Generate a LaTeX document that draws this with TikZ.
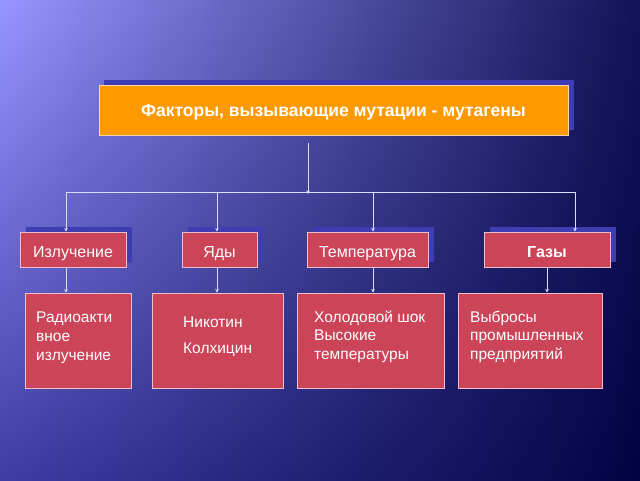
\documentclass[tikz,border=0pt]{standalone}
\usepackage{fontspec}
\setmainfont{Liberation Sans}
\usetikzlibrary{arrows.meta}
\definecolor{boxred}{RGB}{204,68,88}
\definecolor{boxborder}{RGB}{240,190,205}
\definecolor{titleor}{RGB}{255,153,0}
\definecolor{titleborder}{RGB}{255,215,160}
\definecolor{linec}{RGB}{220,220,255}
\definecolor{shadowc}{RGB}{62,62,178}
\definecolor{bgtl}{RGB}{150,150,255}
\definecolor{bgtm}{RGB}{97,97,200}
\definecolor{bgtr}{RGB}{18,18,85}
\definecolor{bgbl}{RGB}{62,62,165}
\definecolor{bgbm}{RGB}{38,38,122}
\definecolor{bgbr}{RGB}{2,2,66}
\tikzset{
  redbox/.style={fill=boxred, draw=boxborder, line width=1pt, text=white, font=\fontsize{16}{19}\selectfont, inner sep=0pt, text height=16.5pt, text depth=0pt},
  titlebox/.style={fill=titleor, draw=titleborder, line width=1pt, text=white, font=\bfseries\fontsize{17.5}{20}\selectfont, inner sep=0pt, text height=12.6pt, text depth=0pt},
  bigbox/.style={fill=boxred, draw=boxborder, line width=1pt, inner sep=0pt},
  shadowbox/.style={fill=shadowc, draw=none},
  btext/.style={text=white, font=\fontsize{15.5}{19}\selectfont, align=left, anchor=base west, inner sep=0pt},
  conn/.style={draw=linec, line width=0.8pt},
  arr/.style={conn, -{Stealth[length=3.5pt,width=3.5pt]}},
}
\begin{document}
\begin{tikzpicture}[x=1pt,y=-1pt]
\useasboundingbox (0,0) rectangle (640,480);
\foreach \i in {0,...,119}{
  \pgfmathsetmacro\p{100-\i*100/119}
  \shade[left color=bgtl!\p!bgbl, middle color=bgtm!\p!bgbm, right color=bgtr!\p!bgbr]
    (0,\i*4) rectangle (640,\i*4+4.5);
}
% shadows
\fill[shadowbox] (104,80) rectangle (574,130);
\fill[shadowbox] (26,227) rectangle (132,262);
\fill[shadowbox] (188,227) rectangle (263,262);
\fill[shadowbox] (313,227) rectangle (434,262);
\fill[shadowbox] (490,227) rectangle (616,262);
% title
\node[titlebox, minimum width=469pt, minimum height=50pt] (title) at (333.5,110) {Факторы, вызывающие мутации - мутагены};
% row 2
\node[redbox, minimum width=106pt, minimum height=35pt] (izl) at (73,249.5) {Излучение};
\node[redbox, minimum width=75pt, minimum height=35pt] (yad) at (219.5,249.5) {Яды};
\node[redbox, minimum width=121pt, minimum height=35pt] (tem) at (367.5,249.5) {Температура};
\node[redbox, minimum width=126pt, minimum height=35pt, font=\bfseries\fontsize{16}{19}\selectfont] (gaz) at (547,249.5) {Газы};
% row 3
\node[bigbox, minimum width=106pt, minimum height=95pt] (rad) at (78,340.5) {};
\node[bigbox, minimum width=131pt, minimum height=95pt] (nik) at (217.5,340.5) {};
\node[bigbox, minimum width=147pt, minimum height=95pt] (hol) at (370.5,340.5) {};
\node[bigbox, minimum width=144pt, minimum height=95pt] (vyb) at (530,340.5) {};
\node[btext] (radT) at (36,360) {Радиоакти\\вное\\излучение};
\node[btext, font=\fontsize{15.5}{26}\selectfont] (nikT) at (183,353) {Никотин\\Колхицин};
\node[btext, font=\fontsize{15.5}{18.5}\selectfont] (holT) at (314,359) {Холодовой шок\\Высокие\\температуры};
\node[btext, font=\fontsize{15.5}{18.5}\selectfont] (vybT) at (470,359) {Выбросы\\промышленных\\предприятий};
% connectors
\coordinate (t0) at (308,143);
\coordinate (hub) at (308,192);
\coordinate (j1) at (66,192);
\coordinate (j2) at (217,192);
\coordinate (j3) at (373,192);
\coordinate (j4) at (575,192);
\coordinate (k4) at (547,192);
\draw[arr] (t0) -- ([yshift=-2pt]hub);
\draw[conn] (j1) -- (j4);
\draw[arr] (j1) -- (j1 |- izl.north);
\draw[arr] (j2) -- (j2 |- yad.north);
\draw[arr] (j3) -- (j3 |- tem.north);
\draw[arr] (j4) -- (j4 |- gaz.north);
\draw[arr] (j1 |- izl.south) -- (j1 |- rad.north);
\draw[arr] (j2 |- yad.south) -- (j2 |- nik.north);
\draw[arr] (j3 |- tem.south) -- (j3 |- hol.north);
\draw[arr] (k4 |- gaz.south) -- (k4 |- vyb.north);
\end{tikzpicture}
\end{document}
